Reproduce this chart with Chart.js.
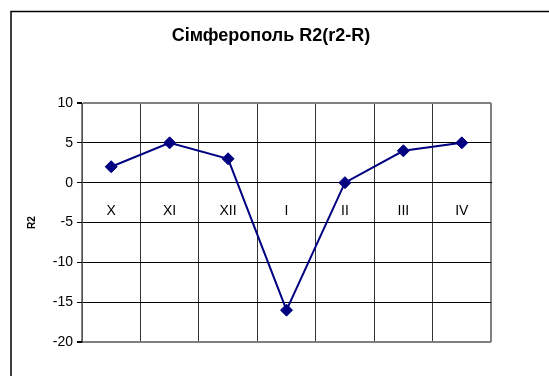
<!DOCTYPE html>
<html>
<head>
<meta charset="utf-8">
<script src="https://cdn.jsdelivr.net/npm/chart.js@4/dist/chart.umd.min.js"></script>
<style>
    html, body { margin: 0; padding: 0; background: #fff; overflow: hidden; }
    #wrap { position: relative; width: 549px; height: 376px; }
</style>
</head>
<body>
<div id="wrap"><canvas id="r2Chart" width="549" height="376"></canvas></div>
<script>
const months = ['X', 'XI', 'XII', 'I', 'II', 'III', 'IV'];
const r2Values = [2, 5, 3, -16, 0, 4, 5];
const yTicks = [10, 5, 0, -5, -10, -15, -20];

const FONT = 'Arial, "Liberation Sans", sans-serif';
const NAVY = '#000080';
const FRAME = '#808080';

// outer box around the whole chart object
const outerFrame = {
    id: 'outerFrame',
    beforeDraw(chart) {
        const ctx = chart.ctx;
        ctx.save();
        ctx.fillStyle = '#fff';
        ctx.fillRect(0, 0, chart.width, chart.height);
        ctx.strokeStyle = '#000';
        ctx.lineWidth = 1.5;
        ctx.strokeRect(11, 11.5, 700, 500);
        ctx.restore();
    }
};

new Chart(document.getElementById('r2Chart'), {
    type: 'line',
    data: {
        labels: months,
        datasets: [{
            label: 'R2',
            data: r2Values,
            borderColor: NAVY,
            backgroundColor: NAVY,
            borderWidth: 2,
            pointStyle: 'rectRot',
            pointRadius: 6,
            pointBorderWidth: 1,
            tension: 0,
            fill: false
        }]
    },
    options: {
        responsive: false,
        animation: false,
        layout: {
            padding: { left: 0, right: 7, top: 0, bottom: 34 }
        },
        plugins: {
            legend: { display: false },
            tooltip: { enabled: false },
            title: {
                display: true,
                text: 'Сімферополь R2(r2-R)',
                color: '#000',
                font: { family: FONT, size: 18, weight: 'bold' },
                padding: { top: 25.2, bottom: 56.2 }
            }
        },
        scales: {
            x: {
                type: 'category',
                position: { y: 0 },
                offset: true,
                grid: {
                    offset: true,
                    drawTicks: false,
                    color: c => (c.type !== 'tick' || c.index === 0) ? FRAME : '#333',
                    lineWidth: c => (c.type !== 'tick' || c.index === 0) ? 2 : 1
                },
                border: { display: true, color: '#000', width: 1 },
                ticks: {
                    color: '#000',
                    padding: 20,
                    maxRotation: 0,
                    font: { family: FONT, size: 14 }
                }
            },
            y: {
                position: 'left',
                min: -20,
                max: 10,
                afterFit: s => { s.width = 82; },
                afterBuildTicks: s => { s.ticks = yTicks.map(v => ({ value: v })); },
                grid: {
                    color: c => (c.tick && (c.tick.value === 10 || c.tick.value === -20)) ? FRAME : '#000',
                    lineWidth: c => (c.tick && (c.tick.value === 10 || c.tick.value === -20)) ? 2 : 1,
                    tickLength: 5,
                    tickColor: '#000'
                },
                border: { display: true, color: '#555', width: 1 },
                ticks: {
                    color: '#000',
                    padding: 4,
                    font: { family: FONT, size: 14 }
                },
                title: {
                    display: true,
                    text: 'R2',
                    color: '#000',
                    font: { family: FONT, size: 10, weight: 'bold' },
                    padding: { top: 26, bottom: 0 }
                }
            },
            // empty strip on the right that keeps the plot narrower than the box
            gap: {
                position: 'right',
                min: 0,
                max: 1,
                afterFit: s => { s.width = 51; },
                grid: { display: false },
                border: { display: false },
                ticks: { display: false }
            }
        }
    },
    plugins: [outerFrame]
});
</script>
</body>
</html>
